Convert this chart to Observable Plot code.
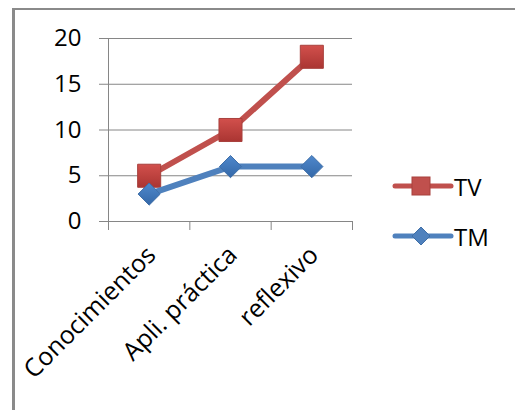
<!DOCTYPE html>
<html>
<head>
<meta charset="utf-8">
<script src="https://cdn.jsdelivr.net/npm/d3@7"></script>
<script src="https://cdn.jsdelivr.net/npm/@observablehq/plot@0.6"></script>
<style>
  html, body { margin: 0; padding: 0; background: #fff; }
  #wrap { position: relative; width: 515px; height: 410px; overflow: hidden; font-family: "Open Sans", sans-serif; }
  #chart svg text { fill: #000; }
  .bl { position: absolute; left: 12px; top: 8px; width: 3px; height: 402px; background: #8a8a8a; }
  .bt { position: absolute; left: 12px; top: 8px; width: 503px; height: 2px; background: #8a8a8a; }
  .leg { position: absolute; left: 392px; height: 26px; display: flex; align-items: center; font-size: 24px; color: #000; }
  .leg svg { display: block; }
  #chart { position: absolute; left: 0; top: 0; }
</style>
</head>
<body>
<div id="wrap">
  <div class="bl"></div>
  <div class="bt"></div>
  <div id="chart"></div>
  <div class="leg" id="legTV" style="top:173px"></div>
  <div class="leg" id="legTM" style="top:223px"></div>
</div>
<script>
const categories = ["Conocimientos", "Apli. práctica", "reflexivo"];
const seriesNames = ["TV", "TM"];
const tvValues = [5, 10, 18];
const tmValues = [3, 6, 6];
const yTicks = [0, 5, 10, 15, 20];
const colors = {TV: "#C0504D", TM: "#4F81BD"};

const rows = [];
categories.forEach((c, i) => {
  rows.push({i, cat: c, series: "TV", value: tvValues[i]});
  rows.push({i, cat: c, series: "TM", value: tmValues[i]});
});
const tvRows = rows.filter(d => d.series === "TV");
const tmRows = rows.filter(d => d.series === "TM");
const labelRows = categories.map((c, i) => ({i, cat: c}));
const xPos = d => d.i + 0.5;

const plot = Plot.plot({
  width: 515,
  height: 410,
  marginLeft: 108,
  marginRight: 163,
  marginTop: 38,
  marginBottom: 189,
  style: {fontFamily: "Open Sans", fontSize: "24px", color: "#868686", background: "transparent", overflow: "visible"},
  x: {domain: [0, categories.length], ticks: d3.range(categories.length + 1), tickFormat: () => "", tickSize: 9, label: null},
  y: {domain: [0, 20], ticks: yTicks, tickSize: 9, tickPadding: 18, label: null},
  marks: [
    Plot.ruleY(yTicks, {stroke: "#868686", strokeWidth: 1}),
    Plot.ruleX([0], {stroke: "#868686", strokeWidth: 1}),
    Plot.line(tvRows, {x: xPos, y: "value", stroke: colors.TV, strokeWidth: 6, strokeLinejoin: "round", strokeLinecap: "round"}),
    Plot.dot(tvRows, {x: xPos, y: "value", symbol: "square", r: 13, fill: "url(#gradTV)", stroke: "#a8403d", strokeWidth: 1}),
    Plot.line(tmRows, {x: xPos, y: "value", stroke: colors.TM, strokeWidth: 6, strokeLinejoin: "round", strokeLinecap: "round"}),
    Plot.dot(tmRows, {x: xPos, y: "value", symbol: "diamond2", r: 10, fill: "url(#gradTM)", stroke: "#3f6fa8", strokeWidth: 1}),
    Plot.text(labelRows, {x: xPos, y: () => 0, text: "cat", rotate: -45, textAnchor: "end", lineAnchor: "bottom", dx: 8, dy: 35, fill: "#000", fontSize: 25})
  ]
});

// gradient definitions for markers
const ns = "http://www.w3.org/2000/svg";
const defs = document.createElementNS(ns, "defs");
defs.innerHTML = `
  <linearGradient id="gradTV" x1="0" y1="0" x2="0" y2="1">
    <stop offset="0" stop-color="#d2504c"/><stop offset="1" stop-color="#aa3532"/>
  </linearGradient>
  <linearGradient id="gradTM" x1="0" y1="0" x2="0" y2="1">
    <stop offset="0" stop-color="#4f88cc"/><stop offset="1" stop-color="#3468a8"/>
  </linearGradient>`;
plot.insertBefore(defs, plot.firstChild);
document.getElementById("chart").appendChild(plot);

// legend
function legendItem(id, name, kind) {
  const el = document.getElementById(id);
  const s = d3.create("svg").attr("width", 62).attr("height", 26);
  s.append("line").attr("x1", 3).attr("x2", 59).attr("y1", 13).attr("y2", 13)
    .attr("stroke", colors[name]).attr("stroke-width", 5).attr("stroke-linecap", "round");
  if (kind === "square") {
    s.append("rect").attr("x", 20).attr("y", 4).attr("width", 18).attr("height", 18)
      .attr("fill", colors[name]).attr("stroke", "#a8403d");
  } else {
    s.append("path").attr("d", "M29,4L38,13L29,22L20,13Z")
      .attr("fill", colors[name]).attr("stroke", "#3f6fa8");
  }
  el.appendChild(s.node());
  const t = document.createElement("span");
  t.textContent = name;
  el.appendChild(t);
}
legendItem("legTV", "TV", "square");
legendItem("legTM", "TM", "diamond");
</script>
</body>
</html>
